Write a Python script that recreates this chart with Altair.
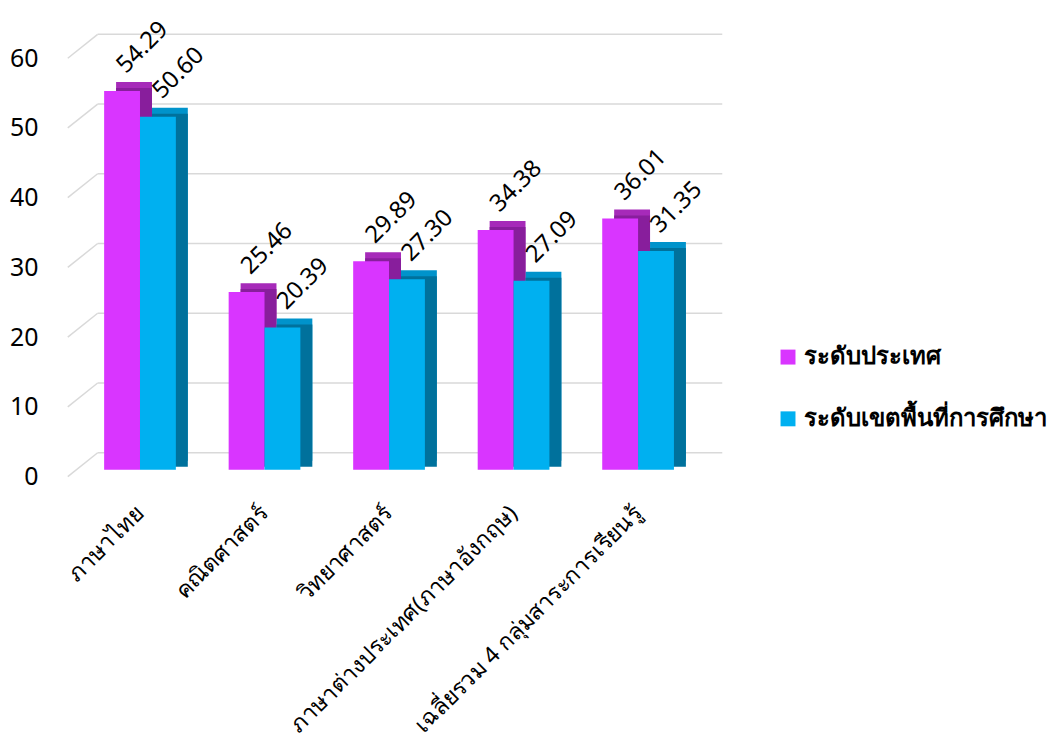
import altair as alt
import pandas as pd

categories = ["ภาษาไทย", "คณิตศาสตร์", "วิทยาศาสตร์",
              "ภาษาต่างประเทศ(ภาษาอังกฤษ)", "เฉลี่ยรวม 4 กลุ่มสาระการเรียนรู้"]
series = ["ระดับประเทศ", "ระดับเขตพื้นที่การศึกษา"]
national = [54.29, 25.46, 29.89, 34.38, 36.01]
area = [50.60, 20.39, 27.30, 27.09, 31.35]
y_ticks = [0, 10, 20, 30, 40, 50, 60]

front_colors = ["#D935FF", "#00B0F0"]
top_colors = ["#A62AB9", "#0093CB"]
side_colors = ["#881E9C", "#00719C"]

rows = []
for c, a, b in zip(categories, national, area):
    rows.append({"cat": c, "series": series[0], "value": a})
    rows.append({"cat": c, "series": series[1], "value": b})
df = pd.DataFrame(rows)
grid_df = pd.DataFrame({"tick": y_ticks})

FONT = "Noto Sans"
W, H = 625, 420

yscale = alt.Scale(domain=[0, 60], nice=False, zero=True)
yaxis = alt.Axis(values=y_ticks, grid=False, ticks=False, domain=False,
                 labelFontSize=25, labelFont=FONT, labelColor="#000000",
                 labelPadding=40, labelOffset=7)
xscale = alt.Scale(paddingInner=0.424, paddingOuter=0.212)
xaxis = alt.Axis(labelAngle=315, labelAlign="right", labelBaseline="middle",
                 labelPadding=40, ticks=False, domain=False, labelFontSize=23,
                 labelFont=FONT, labelColor="#000000", labelLimit=500)

grid_h = alt.Chart(grid_df).mark_rule(color="#D9D9D9", strokeWidth=1.5, yOffset=-17, y2Offset=-17).encode(
    x=alt.value(20), x2=alt.value(647),
    y=alt.Y("tick:Q", scale=yscale, axis=yaxis, title=None),
    y2="tick:Q",
)
grid_d = alt.Chart(grid_df).mark_rule(color="#D9D9D9", strokeWidth=1.5, yOffset=7, y2Offset=-17).encode(
    x=alt.value(-10), x2=alt.value(20),
    y=alt.Y("tick:Q", scale=yscale, axis=yaxis, title=None),
    y2="tick:Q",
)

def base_enc(chart, offset_range):
    return chart.encode(
        x=alt.X("cat:N", sort=categories, scale=xscale, title=None, axis=xaxis),
        xOffset=alt.XOffset("series:N", sort=series,
                            scale=alt.Scale(domain=series, range=offset_range, paddingInner=0, paddingOuter=0)),
        y=alt.Y("value:Q", scale=yscale, title=None, axis=yaxis),
    )

base = alt.Chart(df)

top_face = base_enc(base.mark_bar(yOffset=-9, y2Offset=-9), [12, 84]).encode(
    color=alt.Color("series:N", sort=series, scale=alt.Scale(domain=series, range=top_colors), legend=None)
)
side_face = base_enc(base.mark_bar(yOffset=-3, y2Offset=-9), [12, 84]).encode(
    color=alt.Color("series:N", sort=series, scale=alt.Scale(domain=series, range=side_colors), legend=None)
)
front = base_enc(base.mark_bar(), [0, 72]).encode(
    color=alt.Color("series:N", sort=series, scale=alt.Scale(domain=series, range=front_colors),
                    legend=alt.Legend(title=None, orient="none", legendX=701, legendY=295,
                                      symbolType="square", symbolSize=225, symbolStrokeWidth=0,
                                      labelFontSize=24, labelFontWeight="bold", labelFont=FONT,
                                      labelColor="#000000", rowPadding=38, padding=0, labelLimit=500))
)
labels = base_enc(base.mark_text(angle=315, align="left", baseline="alphabetic", dx=0, yOffset=-17,
                                 fontSize=24, font=FONT, color="#000000"), [22, 58]).encode(
    text=alt.Text("value:Q", format=".2f"),
)

chart = alt.layer(grid_h, grid_d, top_face, side_face, front, labels).resolve_scale(
    color="independent", xOffset="independent"
).properties(
    width=W, height=H,
    autosize=alt.AutoSizeParams(type="none"),
    padding={"left": 70, "top": 42, "right": 352, "bottom": 276},
).configure_view(stroke=None)

chart.save("out.html", embed_options={"renderer": "svg", "actions": False})
